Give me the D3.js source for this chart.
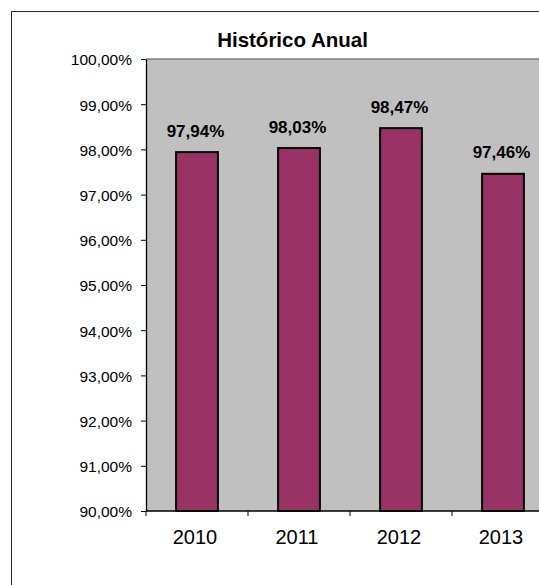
<!DOCTYPE html>
<html>
<head>
<meta charset="utf-8">
<script src="https://cdn.jsdelivr.net/npm/d3@7"></script>
<style>
  html, body { margin: 0; padding: 0; background: #fff; }
  svg { display: block; }
</style>
</head>
<body>
<svg id="chart" width="539" height="585"></svg>
<script>
// Annual history data
const chartTitle = "Histórico Anual";
const years = ["2010", "2011", "2012", "2013"];
const rates = [97.94, 98.03, 98.47, 97.46];
const yTicks = [90, 91, 92, 93, 94, 95, 96, 97, 98, 99, 100];

const fmtPct = v => v.toFixed(2).replace(".", ",") + "%";
const font = "'Liberation Sans', Arial, sans-serif";

const svg = d3.select("#chart");

// chart frame
svg.append("rect")
  .attr("x", 11.5).attr("y", 11.5)
  .attr("width", 640).attr("height", 640)
  .attr("fill", "#fff")
  .attr("stroke", "#2a2a2a")
  .attr("stroke-width", 1);

const plot = { left: 146, top: 59, right: 554, bottom: 511 };

// scales
const y = d3.scaleLinear().domain([90, 100]).range([plot.bottom, plot.top]);
const xCat = d3.scaleBand().domain(years).range([plot.left, plot.right]).padding(0);
const xBar = d3.scaleBand().domain(years).range([plot.left, plot.right])
  .paddingInner(0.59).paddingOuter(0.295);

// plot area
svg.append("rect")
  .attr("x", plot.left).attr("y", plot.top)
  .attr("width", plot.right - plot.left).attr("height", plot.bottom - plot.top)
  .attr("fill", "#c0c0c0");
svg.append("line")
  .attr("x1", plot.left).attr("x2", plot.right)
  .attr("y1", plot.top).attr("y2", plot.top)
  .attr("stroke", "#808080").attr("stroke-width", 1.5);

// title
svg.append("text")
  .attr("x", 292.5).attr("y", 46.5)
  .attr("text-anchor", "middle")
  .attr("font-family", font).attr("font-weight", "bold")
  .attr("font-size", 20.5).attr("fill", "#000")
  .text(chartTitle);

// bars
const rows = years.map((yr, i) => ({ yr, v: rates[i] }));
svg.append("g").selectAll("rect").data(rows).join("rect")
  .attr("x", d => xBar(d.yr))
  .attr("y", d => y(d.v))
  .attr("width", xBar.bandwidth())
  .attr("height", d => y(90) - y(d.v))
  .attr("fill", "#993366")
  .attr("stroke", "#000")
  .attr("stroke-width", 2);

// value labels
svg.append("g").selectAll("text").data(rows).join("text")
  .attr("x", d => xBar(d.yr) + xBar.bandwidth() / 2 - 1.5)
  .attr("y", d => y(d.v) - 15.5)
  .attr("text-anchor", "middle")
  .attr("font-family", font).attr("font-weight", "bold")
  .attr("font-size", 17).attr("fill", "#000")
  .text(d => fmtPct(d.v));

// y axis
const yAxis = d3.axisLeft(y)
  .tickValues(yTicks)
  .tickSize(5)
  .tickSizeOuter(0)
  .tickPadding(9)
  .tickFormat(fmtPct);
const gy = svg.append("g")
  .attr("transform", `translate(${plot.left},0)`)
  .call(yAxis);
gy.select(".domain").attr("stroke", "#000").attr("stroke-width", 1.3);
gy.selectAll(".tick line").attr("stroke", "#000").attr("stroke-width", 1);
gy.selectAll(".tick text")
  .attr("font-family", font).attr("font-size", 15.5)
  .attr("fill", "#000").attr("dy", "0.38em");

// x axis line and category boundary ticks
svg.append("line")
  .attr("x1", plot.left).attr("x2", plot.right)
  .attr("y1", plot.bottom).attr("y2", plot.bottom)
  .attr("stroke", "#000").attr("stroke-width", 1.3);
svg.append("g").selectAll("line").data(years).join("line")
  .attr("x1", d => xCat(d)).attr("x2", d => xCat(d))
  .attr("y1", plot.bottom).attr("y2", plot.bottom + 5)
  .attr("stroke", "#000").attr("stroke-width", 1);

// category labels
svg.append("g").selectAll("text").data(years).join("text")
  .attr("x", d => xCat(d) + xCat.bandwidth() / 2 - 2)
  .attr("y", 544)
  .attr("text-anchor", "middle")
  .attr("font-family", font).attr("font-size", 20)
  .attr("fill", "#000")
  .text(d => d);
</script>
</body>
</html>
